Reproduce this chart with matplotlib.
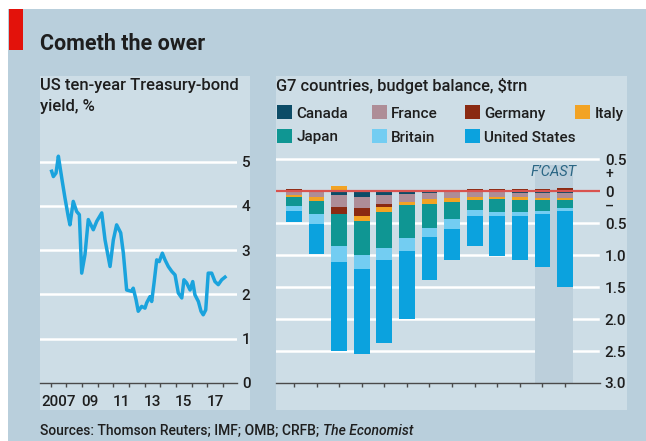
import matplotlib
matplotlib.use("Agg")
import matplotlib.pyplot as plt
from matplotlib.patches import Rectangle
from matplotlib.transforms import blended_transform_factory
import numpy as np

W, H = 646, 441

# US ten-year Treasury-bond yield, % (decimal year, value)
yield_dates = [2007.06, 2007.17, 2007.34, 2007.49, 2007.59, 2007.74, 2007.91, 2008.12,
               2008.23, 2008.44, 2008.66, 2008.83, 2008.98, 2009.19, 2009.40, 2009.72,
               2009.94, 2010.26, 2010.47, 2010.79, 2011.00, 2011.21, 2011.47, 2011.64,
               2011.85, 2012.17, 2012.27, 2012.45, 2012.59, 2012.81, 2013.02, 2013.13,
               2013.34, 2013.45, 2013.60, 2013.77, 2013.93, 2014.13, 2014.30, 2014.51,
               2014.73, 2014.94, 2015.15, 2015.37, 2015.51, 2015.68, 2015.90, 2016.07,
               2016.21, 2016.43, 2016.60, 2016.74, 2016.90, 2017.06, 2017.28, 2017.49,
               2017.70, 2017.92, 2018.13]
yield_values = [4.78, 4.66, 4.74, 5.12, 4.89, 4.55, 4.18, 3.76,
                3.57, 4.10, 3.87, 3.80, 2.48, 2.90, 3.69, 3.46,
                3.65, 3.84, 3.23, 2.63, 3.23, 3.57, 3.39, 2.93,
                2.10, 2.07, 2.14, 1.88, 1.62, 1.73, 1.69, 1.81,
                1.95, 1.84, 2.26, 2.78, 2.74, 2.93, 2.78, 2.63,
                2.52, 2.44, 2.03, 1.92, 2.33, 2.26, 2.10, 2.29,
                1.99, 1.84, 1.62, 1.54, 1.65, 2.48, 2.48, 2.29,
                2.22, 2.33, 2.39]
yield_tick_labels = ["2007", "09", "11", "13", "15", "17"]

# G7 budget balance, $trn
years = list(range(2007, 2020))
canada = [0.02, 0.00, -0.05, -0.08, -0.05, -0.04, -0.02, -0.01, -0.01, -0.01, -0.02, -0.02, -0.02]
france = [-0.05, -0.08, -0.19, -0.18, -0.15, -0.12, -0.10, -0.09, -0.07, -0.07, -0.07, -0.08, -0.09]
germany = [0.02, 0.00, -0.11, -0.13, -0.04, -0.01, 0.00, 0.01, 0.035, 0.035, 0.035, 0.035, 0.05]
italy = [-0.04, -0.07, 0.09, -0.08, -0.08, -0.05, -0.07, -0.07, -0.05, -0.04, -0.04, -0.03, -0.02]
japan = [-0.14, -0.21, -0.51, -0.52, -0.56, -0.51, -0.38, -0.26, -0.16, -0.21, -0.19, -0.17, -0.13]
britain = [-0.08, -0.15, -0.24, -0.23, -0.19, -0.20, -0.14, -0.16, -0.10, -0.06, -0.06, -0.06, -0.05]
united_states = [-0.17, -0.47, -1.40, -1.32, -1.31, -1.07, -0.68, -0.49, -0.47, -0.62, -0.70, -0.83, -1.19]
countries = ["Canada", "France", "Germany", "Italy", "Japan", "Britain", "United States"]
balance_tick_labels = ["2007", "09", "11", "13", "15", "17", "19"]
balance_y_ticks = [0.5, 0, -0.5, -1.0, -1.5, -2.0, -2.5, -3.0]
balance_y_labels = ["0.5", "0", "0.5", "1.0", "1.5", "2.0", "2.5", "3.0"]

colours = ["#0c4c67", "#ae8d97", "#8a2a12", "#f2a324", "#0f9693", "#73cdf2", "#0ba2de"]
OUTER = "#b9cfdc"
PANEL = "#cddde6"
SHADE = "#bccfdb"
TEXT = "#1e1e1e"
AXIS = "#4a4a4a"
LINE_BLUE = "#1aa3dd"
WEIGHT = 500

plt.rcParams["font.family"] = ["Roboto", "DejaVu Sans"]
plt.rcParams["font.size"] = 11
plt.rcParams["font.weight"] = WEIGHT


def box(x0, y0, x1, y1):
    # pixel box, origin top-left -> figure fraction rect
    return [x0 / W, 1 - y1 / H, (x1 - x0) / W, (y1 - y0) / H]


def fx(x):
    return x / W


def fy(y):
    return 1 - y / H


def rect(x0, y0, x1, y1, colour, z=-5):
    l, b, w, h = box(x0, y0, x1, y1)
    fig.add_artist(Rectangle((l, b), w, h, transform=fig.transFigure,
                             facecolor=colour, edgecolor="none", zorder=z))


fig = plt.figure(figsize=(W / 100, H / 100), dpi=100)
fig.patch.set_facecolor("white")

# background, red tag, panels
rect(8, 9, W, H, OUTER, -10)
rect(9, 9, 23, 50, "#e3120b", -9)
rect(40, 76, 250, 410, PANEL, -9)
rect(276, 76, 627, 410, PANEL, -9)

fig.text(fx(40), fy(50), "Cometh the ower", weight="bold", size=15.5,
         color=TEXT, va="baseline")


def style_axes(ax):
    ax.set_facecolor("none")
    for s in ["top", "left", "right"]:
        ax.spines[s].set_visible(False)
    ax.spines["bottom"].set_color(AXIS)
    ax.spines["bottom"].set_linewidth(1)
    ax.spines["bottom"].set_zorder(6)
    ax.yaxis.tick_right()
    ax.tick_params(axis="y", length=0, pad=3.5, labelsize=11, labelcolor=TEXT)
    ax.tick_params(axis="x", which="major", direction="out", length=3,
                   width=1, color=AXIS, labelbottom=False)
    ax.tick_params(axis="x", which="minor", length=0, pad=9,
                   labelsize=11, labelcolor=TEXT)


# left chart: bond yield
ax1 = fig.add_axes(box(40, 143.8, 237, 383))
style_axes(ax1)
ax1.set_xlim(2006.317, 2018.897)
ax1.set_ylim(0, 5.4)
for v in range(1, 6):
    ax1.axhline(v, color="white", lw=1.8, zorder=1)
ax1.plot(yield_dates, yield_values, color=LINE_BLUE, lw=2.5, zorder=3,
         solid_joinstyle="round")
ax1.set_yticks(range(0, 6))
ax1.set_xticks(range(2007, 2019))
ax1.set_xticks([2007.5 + 2 * i for i in range(len(yield_tick_labels))], minor=True)
ax1.set_xticklabels(yield_tick_labels, minor=True)

fig.text(fx(40), fy(90), "US ten-year Treasury-bond", size=12, color=TEXT, va="baseline")
fig.text(fx(40), fy(111.5), "yield, %", size=12, color=TEXT, va="baseline")

# right chart: budget balance
ax2 = fig.add_axes(box(276, 149.9, 600, 383))
style_axes(ax2)
ax2.set_xlim(2006.203, 2020.55)
ax2.set_ylim(-3, 0.65)
for v in [0.5, -0.5, -1.0, -1.5, -2.0, -2.5]:
    ax2.axhline(v, xmax=0.994, color="white", lw=1.8, zorder=1)
ax2.axvspan(2017.65, 2019.35, ymin=0, ymax=(0.41 + 3) / 3.65, color=SHADE,
            lw=0, zorder=1.5)

pos_bottom = np.zeros(len(years))
neg_bottom = np.zeros(len(years))
series = [canada, france, germany, italy, japan, britain, united_states]
for vals, colour in zip(series, colours):
    v = np.array(vals)
    pos = np.where(v > 0, v, 0)
    neg = np.where(v < 0, v, 0)
    ax2.bar(years, pos, bottom=pos_bottom, width=0.695, color=colour, lw=0, zorder=2)
    ax2.bar(years, neg, bottom=neg_bottom, width=0.695, color=colour, lw=0, zorder=2)
    pos_bottom += pos
    neg_bottom += neg

ax2.axhline(0, color="#d9534f", lw=1.6, zorder=5)
ax2.set_yticks(balance_y_ticks)
ax2.set_yticklabels(balance_y_labels)
ax2.set_xticks(years)
ax2.set_xticks(years[::2], minor=True)
ax2.set_xticklabels(balance_tick_labels, minor=True)

trans = blended_transform_factory(ax2.transAxes, ax2.transData)
ax2.text(1.028, 0.27, "+", transform=trans, ha="center", va="center", size=10, color=TEXT)
ax2.text(1.028, -0.24, "\u2013", transform=trans, ha="center", va="center", size=10, color=TEXT)
ax2.text(2018.5, 0.31, "F\u2019CAST", style="italic", weight="normal", size=10.5,
         color="#2a6684", ha="center", va="center", zorder=6)

fig.text(fx(276), fy(90.5), "G7 countries, budget balance, $trn", size=11.8,
         color=TEXT, va="baseline")

# legend
legend_cols = [276.7, 371.7, 465, 575]
for i, (name, colour) in enumerate(zip(countries, colours)):
    row, col = divmod(i, 4)
    x0 = legend_cols[col]
    y0 = 105 + row * 23.5
    rect(x0, y0, x0 + 15, y0 + 14, colour, 3)
    fig.text(fx(x0 + 19.5), fy(y0 + 13), name, size=11, color=TEXT, va="baseline")

# source line
src = fig.text(fx(40), fy(435), "Sources: Thomson Reuters; IMF; OMB; CRFB; ",
               size=10, color=TEXT, va="baseline")
renderer = fig.canvas.get_renderer()
bb = src.get_window_extent(renderer=renderer)
fig.text(bb.x1 / W, fy(435), "The Economist", size=10, style="italic",
         color=TEXT, va="baseline")

fig.savefig("out.png", dpi=100, facecolor=fig.get_facecolor())
